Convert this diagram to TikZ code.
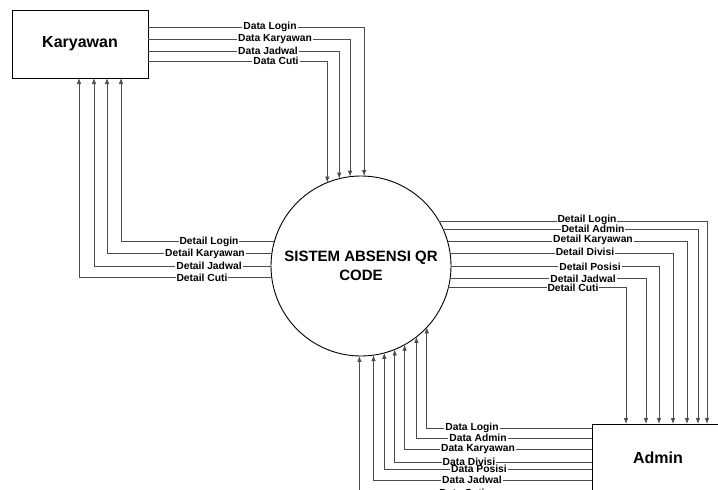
\documentclass[tikz,border=0pt]{standalone}
\usepackage{fontspec}
\setmainfont{Liberation Sans}
\usetikzlibrary{arrows.meta}
\tikzset{
  entity/.style={draw, line width=0.8pt, outer sep=0pt, minimum width=136pt, minimum height=68pt,
    font=\fontsize{16}{18}\selectfont\bfseries},
  process/.style={draw, circle, line width=0.9pt, minimum size=180pt, inner sep=0pt, outer sep=0pt,
    align=center, font=\fontsize{15}{19}\selectfont\bfseries},
  flow/.style={draw=black!70, line width=0.75pt, -{Latex[length=6pt,width=4.5pt]}},
  lbl/.style={fill=white, inner xsep=1pt, inner ysep=0pt, font=\fontsize{10.3}{10}\selectfont\bfseries},
}
\begin{document}
\begin{tikzpicture}[x=1pt,y=-1pt]
  \useasboundingbox (0,0) rectangle (718,490);
  \clip (0,0) rectangle (718,490);

  \node[entity] (kar) at (80,44) {Karyawan};
  \node[process] (sys) at (361,266) {SISTEM ABSENSI QR\\CODE};
  \node[entity, minimum width=132pt] (adm) at (658,458) {Admin};

  % Karyawan -> sistem
  \draw[flow] ([yshift=17pt]kar.east) -| (sys.88.7);
  \draw[flow] ([yshift=5pt]kar.east) -| (sys.97);
  \draw[flow] ([yshift=-7pt]kar.east) -| (sys.104.8);
  \draw[flow] ([yshift=-17pt]kar.east) -| (sys.112.9);
  \node[lbl] (dk1) at (270,27) {Data Login};
  \node[lbl] (dk2) at (275,39) {Data Karyawan};
  \node[lbl] (dk3) at (268,51) {Data Jadwal};
  \node[lbl] (dk4) at (276,61) {Data Cuti};

  % sistem -> Karyawan
  \draw[flow] (sys.164.5) -| ([xshift=41pt]kar.south);
  \draw[flow] (sys.172.3) -| ([xshift=27pt]kar.south);
  \draw[flow] (sys.180) -| ([xshift=14pt]kar.south);
  \draw[flow] (sys.187.7) -| ([xshift=-1pt]kar.south);
  \node[lbl] (tk1) at (209,242) {Detail Login};
  \node[lbl] (tk2) at (205,254) {Detail Karyawan};
  \node[lbl] (tk3) at (209,266) {Detail Jadwal};
  \node[lbl] (tk4) at (202,278) {Detail Cuti};

  % sistem -> Admin
  \draw[flow] (sys.30.7) -| ([xshift=49pt]adm.north);
  \draw[flow] (sys.24.3) -| ([xshift=40pt]adm.north);
  \draw[flow] (sys.16.8) -| ([xshift=29pt]adm.north);
  \draw[flow] (sys.8.9) -| ([xshift=15pt]adm.north);
  \draw[flow] (sys.-0.6) -| ([xshift=1pt]adm.north);
  \draw[flow] (sys.-8.3) -| ([xshift=-12pt]adm.north);
  \draw[flow] (sys.-14.1) -| ([xshift=-32pt]adm.north);
  \node[lbl] (ta1) at (587,220) {Detail Login};
  \node[lbl] (ta2) at (593,229) {Detail Admin};
  \node[lbl] (ta3) at (593,240) {Detail Karyawan};
  \node[lbl] (ta4) at (585,252) {Detail Divisi};
  \node[lbl] (ta5) at (590,267) {Detail Posisi};
  \node[lbl] (ta6) at (583,279) {Detail Jadwal};
  \node[lbl] (ta7) at (573,288) {Detail Cuti};

  % Admin -> sistem
  \draw[flow] ([yshift=30pt]adm.west) -| (sys.-43.8);
  \draw[flow] ([yshift=20pt]adm.west) -| (sys.-52.3);
  \draw[flow] ([yshift=9pt]adm.west) -| (sys.-61.5);
  \draw[flow] ([yshift=-4pt]adm.west) -| (sys.-68.5);
  \draw[flow] ([yshift=-11pt]adm.west) -| (sys.-75.9);
  \draw[flow] ([yshift=-22pt]adm.west) -| (sys.-82.3);
  \draw[flow] ([yshift=-32pt]adm.west) -| (sys.-91.9);
  \node[lbl] (da1) at (472,428) {Data Login};
  \node[lbl] (da2) at (478,438) {Data Admin};
  \node[lbl] (da3) at (478,449) {Data Karyawan};
  \node[lbl] (da4) at (469,462) {Data Divisi};
  \node[lbl] (da5) at (479,469) {Data Posisi};
  \node[lbl] (da6) at (472,480) {Data Jadwal};
  \node[lbl] (da7) at (462,493) {Data Cuti};
\end{tikzpicture}
\end{document}
